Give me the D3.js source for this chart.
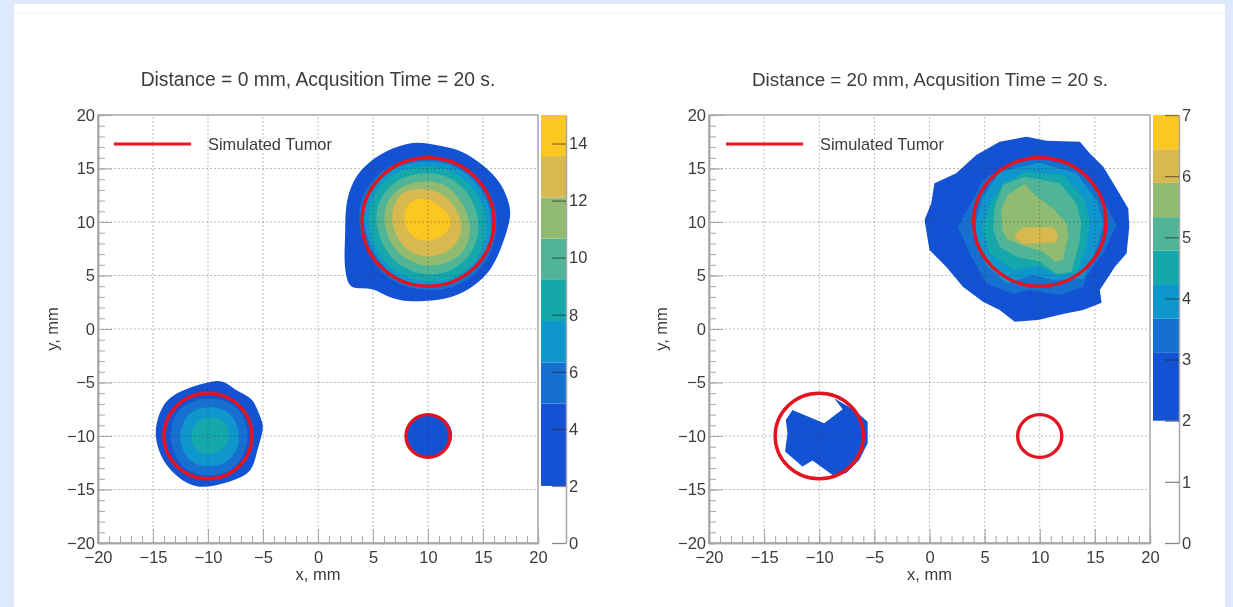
<!DOCTYPE html>
<html>
<head>
<meta charset="utf-8">
<script src="https://cdn.jsdelivr.net/npm/d3@7"></script>
<style>
	html, body { margin: 0; padding: 0; background: #dfe9fd; overflow: hidden; }
	svg { display: block; filter: blur(0.6px); }
	text { font-family: "Liberation Sans", Arial, sans-serif; fill: #3c3c3c; }
</style>
</head>
<body>
<div id="graph"></div>
<script>
var width = 1233;
var height = 607;

// Palette bands, lowest to highest
var bandColors = ["#1452d4", "#1670d0", "#0f96cc", "#14a7ac", "#4fb596", "#92bb72", "#d8b94f", "#fdc722"];

var leftLevels = [2, 4.89, 6.33, 7.78, 9.22, 10.67, 12.11, 13.56, 15];
var rightLevels = [2, 3.11, 3.67, 4.22, 4.78, 5.33, 5.89, 6.44, 7];
var leftBarTicks = [0, 2, 4, 6, 8, 10, 12, 14];
var rightBarTicks = [0, 1, 2, 3, 4, 5, 6, 7];

var majorTicks = [-20, -15, -10, -5, 0, 5, 10, 15, 20];
var minorTicks = d3.range(-20, 21);

var tumorX = [10, -10, 10];
var tumorY = [10, -10, -10];
var tumorR = [6, 4, 2];

// Contours in mm, [x, y]. Position in the list = palette band.
var left0Large = [
	[[8.97,17.6],[11.1,17.1],[13.2,16.7],[15.3,15.1],[16.6,13.7],[17.3,12.1],[17.6,10.65],[17.1,8.9],[16.6,7.4],[15.7,5.4],[14.2,4],[12.3,2.9],[9.6,2.55],[7.45,2.6],[5.9,3.2],[5,3.9],[3.1,3.7],[2.6,4.5],[2.35,6.4],[2.5,8.9],[2.45,11.4],[3.1,13.9],[4.6,15.7],[6.85,17]],
	[[10,16.4],[13.2,15.5],[15.8,12.9],[16.5,9.8],[15.6,6.2],[12.8,3.8],[9.4,3.4],[5.7,4.7],[3.6,8.8],[3.7,12.4],[6,15.4]],
	[[9.94,15.9],[13,15.2],[15.3,12.7],[16,9.72],[15.2,6.3],[12.5,4.2],[9.42,3.8],[6,5.2],[4.1,8.94],[4.1,12.2],[6.3,15.1]],
	[[9.94,15.4],[12.9,14.7],[14.9,12.2],[15.55,9.56],[14.75,6.45],[12.35,4.55],[9.27,4.25],[6.1,5.7],[4.5,8.94],[4.6,12.2],[6.6,14.7]],
	[[9.94,14.8],[12.6,14.1],[14.3,11.8],[14.8,9.4],[14,6.8],[11.9,5.15],[9.27,4.95],[6.6,6.3],[5.2,9.25],[5.3,11.9],[7.05,14.1]],
	[[9.88,13.95],[12,13.45],[13.5,11.25],[14,9.25],[13.4,7.1],[11.3,5.85],[8.97,5.9],[6.9,7.25],[5.95,9.56],[6.05,11.8],[7.5,13.45]],
	[[9.12,13.2],[11.3,12.85],[12.8,11.1],[13.2,9.25],[12.45,7.6],[10.6,6.65],[8.7,6.85],[7.3,8.2],[6.65,9.87],[6.8,11.6],[7.65,12.85]],
	[[9.3,12.3],[10.6,11.95],[11.65,11],[12.25,10.03],[11.65,8.85],[10.25,8.15],[8.85,8.3],[7.95,9.4],[7.75,10.75],[8.25,11.85]]
];
var left0Medium = [
	[[-9.36,-4.8],[-8.3,-4.95],[-7.3,-5.9],[-5.95,-6.4],[-5.45,-7.72],[-4.9,-8.97],[-5.15,-10.06],[-5.6,-11.62],[-5.95,-13.3],[-7.39,-14.05],[-8.9,-14.55],[-10.42,-14.85],[-11.85,-14.55],[-13.4,-13.3],[-14.35,-11.85],[-14.85,-10.06],[-14.65,-8.4],[-13.85,-6.5],[-11.93,-5.55],[-10.42,-5.1]],
	[[-9.97,-6.35],[-7.5,-6.85],[-6.4,-8.85],[-6.3,-10.9],[-7.5,-13.25],[-9.97,-13.95],[-12.3,-13.25],[-13.5,-10.9],[-13.4,-8.55],[-12.15,-6.85]],
	[[-9.88,-7.15],[-7.95,-7.65],[-7.15,-9.35],[-7.15,-10.95],[-8.1,-12.5],[-9.97,-13],[-11.7,-12.5],[-12.55,-10.95],[-12.55,-9.2],[-11.7,-7.65]],
	[[-9.82,-8.1],[-8.55,-8.45],[-7.95,-9.7],[-8.3,-11.2],[-9.97,-11.9],[-11.4,-11.35],[-11.6,-9.7],[-11.1,-8.6]]
];
var left0Small = [
	[[10.03,-7.9],[11.5,-8.2],[12.3,-9.44],[12.15,-10.75],[11.2,-11.75],[10.03,-12],[8.4,-11.75],[7.9,-10.38],[8.07,-8.9],[8.87,-8.05]]
];
var right20Large = [
	[[8.79,17.97],[10.61,17.6],[13.64,17.5],[14.55,16.4],[15.76,15.17],[16.67,13.61],[18.03,11.27],[18.12,9.56],[17.88,7.07],[16.82,5.82],[15.45,3.64],[15.61,2.46],[13.94,1.77],[12.12,1.4],[9.85,0.84],[7.73,0.68],[6.36,1.77],[4.85,2.55],[3.03,3.95],[1.51,5.82],[0,7.38],[-0.45,10.18],[0.15,11.74],[0.45,13.61],[2.42,14.55],[4.24,16.26],[6.36,17.5]],
	[[2.58,9.56],[3.94,12.05],[4.85,13.92],[6.97,15.32],[10,15.95],[12.73,15.32],[14.85,13.61],[16.06,11.43],[16.97,9.72],[15.91,7.38],[14.24,4.89],[13.94,3.95],[11.82,3.17],[9.09,3.64],[7.58,3.27],[5.15,4.27],[3.64,7.07]],
	[[4.09,9.56],[4.85,12.36],[6.36,14.7],[10,15.54],[13.33,14.55],[15.15,12.05],[15.76,9.87],[15,7.07],[13.94,4.73],[11.21,4.58],[9.39,5.05],[6.97,4.27],[5,6.13]],
	[[5.6,11.9],[6.67,13.61],[8.79,14.7],[12.12,14.39],[13.94,12.36],[14.55,10.18],[14.24,7.69],[13.33,5.2],[11.52,5.04],[9.7,5.88],[7.58,5.51],[5.45,7.07],[4.79,9.56]],
	[[5.91,11.43],[6.67,13.46],[8.64,14.23],[11.82,13.61],[13.33,11.74],[13.79,9.87],[13.58,8],[12.88,5.36],[11.52,5.14],[10,6.29],[7.88,6.76],[6.36,7.69],[5.76,9.25]],
	[[8.64,13.55],[9.55,12.52],[11.21,11.27],[12.42,9.87],[12.58,8.78],[12.12,6.45],[11.36,6.29],[10.3,7.22],[8.79,7.69],[7.12,8.32],[6.6,9.25],[6.51,11.27],[7.12,12.52]],
	[[7.88,8.94],[8.48,9.5],[11.21,9.5],[11.67,8.78],[11.52,8.1],[8.48,7.94],[7.73,8.56]]
];
var right20Medium = [
	[[-12.43,-7.57],[-9.55,-8.81],[-7.88,-7.51],[-8.64,-6.48],[-6.82,-7.57],[-5.61,-8.66],[-5.61,-10.68],[-6.37,-12.24],[-7.58,-13.49],[-8.79,-13.64],[-10.61,-12.3],[-11.52,-12.86],[-13.1,-11.46],[-12.88,-9.75],[-13.03,-8.5]]
];

var svg = d3.select("#graph")
	.append("svg")
		.attr("width", width)
		.attr("height", height)
	;

// White page card with its faint header rule
svg.append("rect")
	.attr("x", 14).attr("y", 4)
	.attr("width", 1211).attr("height", 603)
	.attr("fill", "#ffffff")
	;
svg.append("line")
	.attr("x1", 14).attr("x2", 1225)
	.attr("y1", 13).attr("y2", 13)
	.attr("stroke", "#eeeeee")
	;

function drawPanel(p)
	{
	var x = d3.scaleLinear().domain([-20, 20]).range([p.left, p.right]);
	var y = d3.scaleLinear().domain([-20, 20]).range([543, 115]);
	var g = svg.append("g");

	// Filled contours first, the grid shows through on top of them
	p.blobs.forEach(function(blob) {
		var path = d3.line()
			.x(d => x(d[0]))
			.y(d => y(d[1]))
			.curve(blob.curve)
			;
		g.selectAll(null)
			.data(blob.contours)
			.enter()
			.append("path")
				.attr("d", d => path(d))
				.attr("fill", (d, i) => bandColors[i])
			;
		});

	// Grid
	g.selectAll(null)
		.data(majorTicks.slice(1, -1))
		.enter()
		.append("line")
			.attr("x1", d => x(d)).attr("x2", d => x(d))
			.attr("y1", y(-20)).attr("y2", y(20))
			.attr("stroke", "rgba(50,50,50,0.32)")
			.attr("stroke-dasharray", "2,2")
		;
	g.selectAll(null)
		.data(majorTicks.slice(1, -1))
		.enter()
		.append("line")
			.attr("x1", x(-20)).attr("x2", x(20))
			.attr("y1", d => y(d)).attr("y2", d => y(d))
			.attr("stroke", "rgba(50,50,50,0.32)")
			.attr("stroke-dasharray", "2,2")
		;

	// Simulated tumors
	g.selectAll(null)
		.data(tumorR)
		.enter()
		.append("ellipse")
			.attr("cx", (d, i) => x(tumorX[i]))
			.attr("cy", (d, i) => y(tumorY[i]))
			.attr("rx", d => x(d) - x(0))
			.attr("ry", d => y(0) - y(d))
			.attr("fill", "none")
			.attr("stroke", "#e2141f")
			.attr("stroke-width", 3.4)
		;

	// Axes: ticks point inward, minor ones every mm
	var xMinor = d3.axisBottom(x).tickValues(minorTicks).tickSize(-7).tickFormat("");
	var yMinor = d3.axisLeft(y).tickValues(minorTicks).tickSize(-7).tickFormat("");
	var xMajor = d3.axisBottom(x).tickValues(majorTicks).tickSizeInner(-14).tickSizeOuter(0).tickPadding(8).tickFormat(d3.format("d"));
	var yMajor = d3.axisLeft(y).tickValues(majorTicks).tickSizeInner(-14).tickSizeOuter(0).tickPadding(3).tickFormat(d3.format("d"));

	[xMinor, xMajor].forEach(a => g.append("g").attr("class", "axis").attr("transform", "translate(0,543)").call(a));
	[yMinor, yMajor].forEach(a => g.append("g").attr("class", "axis").attr("transform", "translate(" + p.left + ",0)").call(a));

	// Frame
	g.append("rect")
		.attr("x", x(-20)).attr("y", y(20))
		.attr("width", x(20) - x(-20)).attr("height", y(-20) - y(20))
		.attr("fill", "none")
		.attr("stroke", "#a6a6a6")
		.attr("stroke-width", 1.5)
		;

	// Colour bar
	var z = d3.scaleLinear().domain([0, p.levels[p.levels.length - 1]]).range([543, 115]);
	g.selectAll(null)
		.data(bandColors)
		.enter()
		.append("rect")
			.attr("x", p.barLeft)
			.attr("width", p.barRight - p.barLeft)
			.attr("y", (d, i) => z(p.levels[i + 1]))
			.attr("height", (d, i) => z(p.levels[i]) - z(p.levels[i + 1]))
			.attr("fill", d => d)
		;
	g.append("g")
		.attr("class", "axis bar")
		.attr("transform", "translate(" + p.barRight + ",0)")
		.call(d3.axisRight(z).tickValues(p.barTicks).tickSizeInner(-14).tickSizeOuter(0).tickPadding(3).tickFormat(d3.format("d")))
		;

	g.selectAll(".axis path.domain")
		.attr("stroke", "#a6a6a6")
		.attr("stroke-width", 1.5)
		;
	g.selectAll(".axis .tick line")
		.attr("stroke", "#a6a6a6")
		;
	g.selectAll(".bar .tick line")
		.attr("stroke", "rgba(40,40,40,0.55)")
		.attr("stroke-width", 1.3)
		;
	g.selectAll(".axis text")
		.attr("font-size", 16.5)
		.style("font-family", "\"Liberation Sans\", Arial, sans-serif")
		;

	// Legend
	g.append("line")
		.attr("x1", p.legendX).attr("x2", p.legendX + 77)
		.attr("y1", 144).attr("y2", 144)
		.attr("stroke", "#ee1520")
		.attr("stroke-width", 3)
		;
	g.append("text")
		.attr("x", p.legendX + 94)
		.attr("y", 150)
		.attr("font-size", 16.4)
		.text("Simulated Tumor")
		;

	// Titles
	g.append("text")
		.attr("x", p.titleX)
		.attr("y", 86)
		.attr("text-anchor", "middle")
		.attr("font-size", p.titleSize)
		.text(p.title)
		;
	g.append("text")
		.attr("x", x(0))
		.attr("y", 580)
		.attr("text-anchor", "middle")
		.attr("font-size", 16.5)
		.text("x, mm")
		;
	g.append("text")
		.attr("transform", "translate(" + p.yTitleX + ",329) rotate(-90)")
		.attr("text-anchor", "middle")
		.attr("font-size", 16.5)
		.text("y, mm")
		;
	}

drawPanel({
	left: 98, right: 538, barLeft: 541, barRight: 566,
	legendX: 114, titleX: 318, yTitleX: 58, titleSize: 19.3,
	title: "Distance = 0 mm, Acqusition Time = 20 s.",
	levels: leftLevels, barTicks: leftBarTicks,
	blobs: [
		{ contours: left0Large, curve: d3.curveBasisClosed },
		{ contours: left0Medium, curve: d3.curveBasisClosed },
		{ contours: left0Small, curve: d3.curveBasisClosed }
		]
	});

drawPanel({
	left: 709, right: 1150, barLeft: 1153, barRight: 1179,
	legendX: 726, titleX: 930, yTitleX: 667, titleSize: 18.8,
	title: "Distance = 20 mm, Acqusition Time = 20 s.",
	levels: rightLevels, barTicks: rightBarTicks,
	blobs: [
		{ contours: right20Large, curve: d3.curveLinearClosed },
		{ contours: right20Medium, curve: d3.curveLinearClosed }
		]
	});
</script>
</body>
</html>
